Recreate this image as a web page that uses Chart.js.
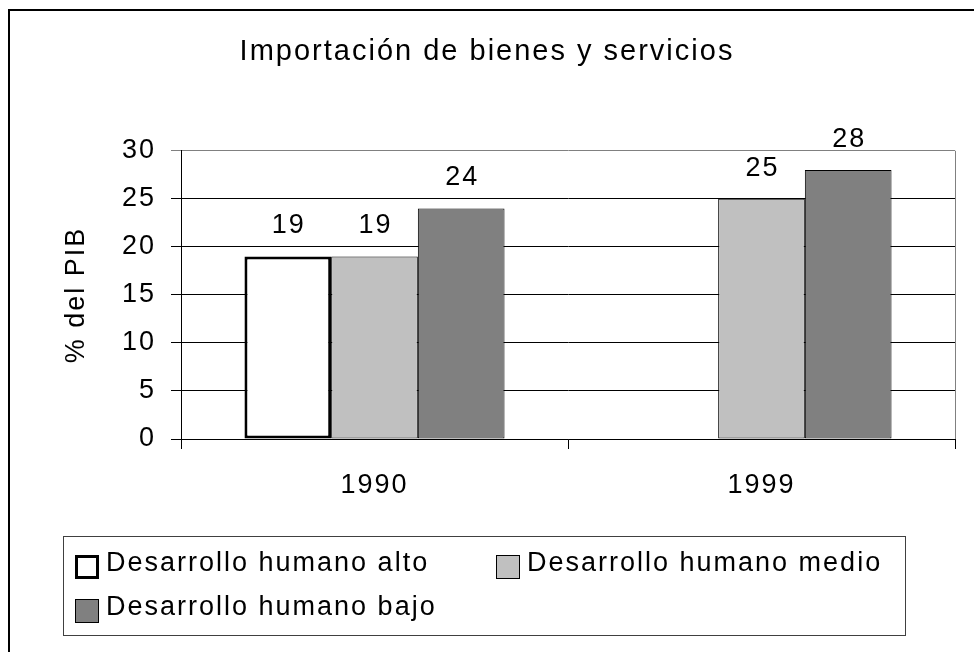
<!DOCTYPE html>
<html>
<head>
<meta charset="utf-8">
<script src="https://cdn.jsdelivr.net/npm/chart.js@4"></script>
<style>
  html, body { margin: 0; padding: 0; background: #fff; }
  canvas { display: block; }
</style>
</head>
<body>
<canvas id="chartCanvas" width="974" height="652"></canvas>
<script>
const years = ["1990", "1999"];
const altoValues = [19, null];
const medioValues = [19, 25];
const bajoValues = [24, 28];
const seriesNames = ["Desarrollo humano alto", "Desarrollo humano medio", "Desarrollo humano bajo"];
const yTickStep = 5;
const yMax = 30;

const FONT = "'Liberation Sans', Arial, sans-serif";
const SPACING = "2px";

// canvas letter spacing, so text is as wide as in the original
const spacing = {
  id: "spacing",
  beforeUpdate(chart) { chart.ctx.letterSpacing = SPACING; },
  beforeDraw(chart) {
    const ctx = chart.ctx;
    ctx.letterSpacing = SPACING;
    // outer frame (only left and top are visible in the picture)
    ctx.save();
    ctx.fillStyle = "#000";
    ctx.fillRect(8, 9, 2, 652);
    ctx.fillRect(8, 9, 974, 2);
    ctx.restore();
  }
};

// gray right edge of the plot area
const plotFrame = {
  id: "plotFrame",
  beforeDatasetsDraw(chart) {
    const { ctx, chartArea } = chart;
    ctx.save();
    ctx.strokeStyle = "#808080";
    ctx.lineWidth = 1;
    const x = Math.round(chartArea.right) + 0.5;
    ctx.beginPath();
    ctx.moveTo(x, chartArea.top);
    ctx.lineTo(x, chartArea.bottom);
    ctx.stroke();
    ctx.restore();
  }
};

// values above the bars
const valueLabels = {
  id: "valueLabels",
  afterDatasetsDraw(chart) {
    const ctx = chart.ctx;
    ctx.save();
    ctx.font = "27px " + FONT;
    ctx.fillStyle = "#000";
    ctx.textAlign = "center";
    ctx.textBaseline = "alphabetic";
    chart.data.datasets.forEach((ds, i) => {
      chart.getDatasetMeta(i).data.forEach((bar, j) => {
        const v = ds.data[j];
        if (v == null) return;
        ctx.fillText(String(v), bar.x + 1, bar.y - 23);
      });
    });
    ctx.restore();
  }
};

// boxed legend, two items per row
const boxLegend = {
  id: "boxLegend",
  afterDraw(chart) {
    const ctx = chart.ctx;
    const left = 63, top = 536, w = 842, h = 99;
    ctx.save();
    ctx.strokeStyle = "#404040";
    ctx.lineWidth = 1;
    ctx.strokeRect(left + 0.5, top + 0.5, w, h);
    ctx.font = "27px " + FONT;
    ctx.letterSpacing = SPACING;
    ctx.textBaseline = "middle";
    chart.data.datasets.forEach((ds, i) => {
      const col = i % 2, row = Math.floor(i / 2);
      const x = left + 12 + col * 421;
      const y = top + 28 + row * 44;
      const bw = ds.borderWidth;
      ctx.fillStyle = ds.backgroundColor;
      ctx.fillRect(x, y - 9, 24, 24);
      ctx.lineWidth = bw;
      ctx.strokeStyle = "#000";
      ctx.strokeRect(x + bw / 2, y - 9 + bw / 2, 24 - bw, 24 - bw);
      ctx.fillStyle = "#000";
      ctx.fillText(ds.label, x + 31, y);
    });
    ctx.restore();
  }
};

const chart = new Chart(document.getElementById("chartCanvas"), {
  type: "bar",
  data: {
    labels: years,
    datasets: [
      { label: seriesNames[0], data: altoValues, backgroundColor: "#FFFFFF", borderColor: "#000000", borderWidth: 3 },
      { label: seriesNames[1], data: medioValues, backgroundColor: "#C0C0C0", borderColor: "#000000", borderWidth: 1 },
      { label: seriesNames[2], data: bajoValues, backgroundColor: "#808080", borderColor: "#000000", borderWidth: 1 }
    ]
  },
  options: {
    responsive: false,
    animation: false,
    devicePixelRatio: 1,
    datasets: {
      bar: { categoryPercentage: 0.672, barPercentage: 1, borderSkipped: false }
    },
    layout: { padding: { top: 12, left: 19, right: 19, bottom: 152 } },
    plugins: {
      legend: { display: false },
      tooltip: { enabled: false },
      title: {
        display: true,
        text: "Importación de bienes y servicios",
        color: "#000",
        font: { family: FONT, size: 29, weight: "normal", lineHeight: 1.2 },
        padding: { top: 23, bottom: 81 }
      }
    },
    scales: {
      x: {
        grid: { offset: true, drawOnChartArea: false, color: "#000", tickLength: 10 },
        border: { color: "#000" },
        ticks: { color: "#000", padding: 20, font: { family: FONT, size: 27, lineHeight: 1.2 } },
        afterFit(scale) { scale.height = 61; }
      },
      y: {
        min: 0,
        max: yMax,
        ticks: { stepSize: yTickStep, color: "#000", padding: 15, font: { family: FONT, size: 27, lineHeight: 1.2 } },
        grid: {
          color: c => (c.tick && c.tick.value === yMax ? "#808080" : "#000"),
          tickLength: 10
        },
        border: { color: "#000" },
        title: {
          display: true,
          text: "% del PIB",
          color: "#000",
          font: { family: FONT, size: 27, lineHeight: 1.2 },
          padding: { top: 41, bottom: 0 }
        },
        afterFit(scale) { scale.width = 162; }
      }
    }
  },
  plugins: [spacing, plotFrame, valueLabels, boxLegend]
});
</script>
</body>
</html>
